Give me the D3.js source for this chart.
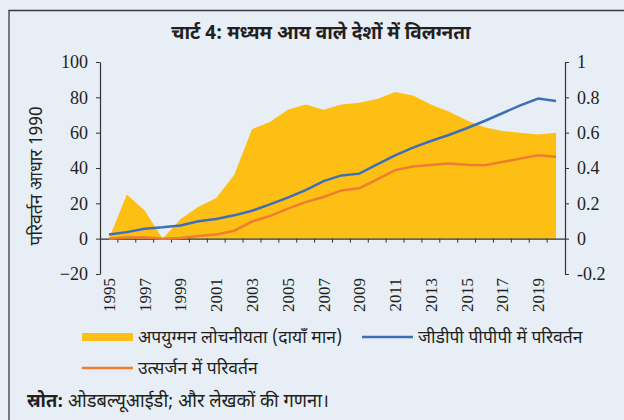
<!DOCTYPE html>
<html>
<head>
<meta charset="utf-8">
<script src="https://cdn.jsdelivr.net/npm/d3@7"></script>
<style>
  body { margin: 0; background: #e7eef5; }
  svg { display: block; font-family: "Noto Sans Devanagari", "Noto Sans", sans-serif; }
  .num { font-family: "Liberation Serif", "DejaVu Serif", serif; }
</style>
</head>
<body>
<svg width="624" height="420"></svg>
<script>
// Chart data
var years = d3.range(1995, 2021);
var elasticity = [0.0, 0.25, 0.16, 0.0, 0.11, 0.18, 0.23, 0.36, 0.62, 0.66, 0.73, 0.76, 0.73,
  0.76, 0.77, 0.79, 0.83, 0.81, 0.76, 0.72, 0.67, 0.63, 0.61, 0.60, 0.59, 0.60];
var gdpChange = [2.3, 3.7, 5.6, 6.4, 7.5, 9.8, 11.1, 13.2, 15.8, 19.4, 23.2, 27.5, 32.6,
  35.8, 36.8, 42.0, 47.2, 51.5, 55.3, 58.7, 62.5, 66.6, 71.0, 75.5, 79.3, 77.9];
var emissionChange = [0, 0.7, 0.8, 0, 0.4, 1.5, 2.3, 4.5, 9.7, 12.8, 17.0, 20.7, 23.6,
  27.3, 28.5, 33.6, 38.8, 40.8, 41.7, 42.6, 41.9, 41.5, 43.4, 45.3, 47.2, 46.4];
var leftTicks = [-20, 0, 20, 40, 60, 80, 100];
var rightTicks = [-0.2, 0, 0.2, 0.4, 0.6, 0.8, 1];
var xLabels = years.filter((d, i) => i % 2 === 0);

var title = "चार्ट 4: मध्यम आय वाले देशों में विलग्नता";
var yTitle = "परिवर्तन आधार 1990";
var seriesNames = ["अपयुग्मन लोचनीयता (दायाँ मान)", "जीडीपी पीपीपी में परिवर्तन", "उत्सर्जन में परिवर्तन"];
var colors = ["#fdbf13", "#3d6fb9", "#ee7d2f"];

var svg = d3.select("svg");
var textColor = "#231f20";

// frame (open at right and bottom)
svg.append("path")
  .attr("d", "M9,420V10.5H624")
  .attr("fill", "none")
  .attr("stroke", "#3a3a3a")
  .attr("stroke-width", 1.3);

svg.append("text")
  .attr("x", 321).attr("y", 39)
  .attr("text-anchor", "middle")
  .attr("font-size", 19).attr("font-weight", "bold")
  .attr("fill", textColor)
  .text(title);

// scales
var x = d3.scaleBand().domain(years).range([100, 565]);
var cx = (d) => x(d) + x.bandwidth() / 2;
var yL = d3.scaleLinear().domain([-20, 100]).range([274, 62]);
var yR = d3.scaleLinear().domain([-0.2, 1]).range([274, 62]);

// area (right axis)
svg.append("path")
  .datum(years)
  .attr("fill", colors[0])
  .attr("d", d3.area()
    .x((d) => cx(d))
    .y0(yR(0))
    .y1((d, i) => yR(elasticity[i])));

// x axis on the zero line
var xAxis = svg.append("g")
  .attr("transform", "translate(0," + yL(0) + ")")
  .call(d3.axisBottom(x).tickSize(0).tickFormat(""));
xAxis.select(".domain").attr("stroke", "#333").attr("stroke-width", 1.2);
xAxis.selectAll(".bnd")
  .data(years.slice(1))
  .enter()
  .append("line")
  .attr("x1", (d) => x(d)).attr("x2", (d) => x(d))
  .attr("y1", 0).attr("y2", 4)
  .attr("stroke", "#333");

// lines (left axis)
var line = d3.line().x((d) => cx(d[0])).y((d) => yL(d[1]));
svg.append("path")
  .datum(years.map((d, i) => [d, emissionChange[i]]))
  .attr("fill", "none").attr("stroke", colors[2]).attr("stroke-width", 2.5)
  .attr("d", line);
svg.append("path")
  .datum(years.map((d, i) => [d, gdpChange[i]]))
  .attr("fill", "none").attr("stroke", colors[1]).attr("stroke-width", 2.5)
  .attr("d", line);

// x labels
svg.selectAll(".xl")
  .data(xLabels)
  .enter()
  .append("text")
  .attr("class", "num")
  .attr("transform", (d) => "translate(" + cx(d) + ",278) rotate(-90)")
  .attr("text-anchor", "end")
  .attr("dy", "0.35em")
  .style("font-size", "17px")
  .attr("fill", textColor)
  .text((d) => d);

// y axes
function styleAxis(g) {
  g.attr("font-family", null);
  g.select(".domain").attr("stroke", "#333").attr("stroke-width", 1.2);
  g.selectAll(".tick line").attr("stroke", "#333");
  g.selectAll(".tick text")
    .attr("class", "num")
    .style("font-size", "18px")
    .attr("fill", textColor);
}
svg.append("g")
  .attr("transform", "translate(100,0)")
  .call(d3.axisLeft(yL).tickValues(leftTicks).tickSize(4).tickSizeOuter(0).tickPadding(8))
  .call(styleAxis);
svg.append("g")
  .attr("transform", "translate(565,0)")
  .call(d3.axisRight(yR).tickValues(rightTicks).tickFormat((d) => String(d))
    .tickSize(4).tickSizeOuter(0).tickPadding(8))
  .call(styleAxis);

svg.append("text")
  .attr("transform", "translate(36,176) rotate(-90)")
  .attr("text-anchor", "middle")
  .attr("dy", "0.35em")
  .attr("font-size", 17.5)
  .attr("fill", textColor)
  .text(yTitle);

// legend
svg.append("rect")
  .attr("x", 82).attr("y", 333).attr("width", 51).attr("height", 8)
  .attr("fill", colors[0]);
svg.append("line")
  .attr("x1", 362).attr("x2", 413).attr("y1", 337).attr("y2", 337)
  .attr("stroke", colors[1]).attr("stroke-width", 2.5);
svg.append("line")
  .attr("x1", 82).attr("x2", 133).attr("y1", 368).attr("y2", 368)
  .attr("stroke", colors[2]).attr("stroke-width", 2.5);
[[138, 337, 0], [418, 337, 1], [138, 368, 2]].forEach(function (p) {
  svg.append("text")
    .attr("x", p[0]).attr("y", p[1])
    .attr("dy", "0.35em")
    .attr("font-size", 17.5)
    .attr("fill", textColor)
    .text(seriesNames[p[2]]);
});

// source
var src = svg.append("text")
  .attr("x", 27).attr("y", 401)
  .attr("dy", "0.35em")
  .attr("font-size", 18.3)
  .attr("fill", textColor);
src.append("tspan").attr("font-weight", "bold").text("स्रोत:");
src.append("tspan").text(" ओडबल्यूआईडी; और लेखकों की गणना।");
</script>
</body>
</html>
